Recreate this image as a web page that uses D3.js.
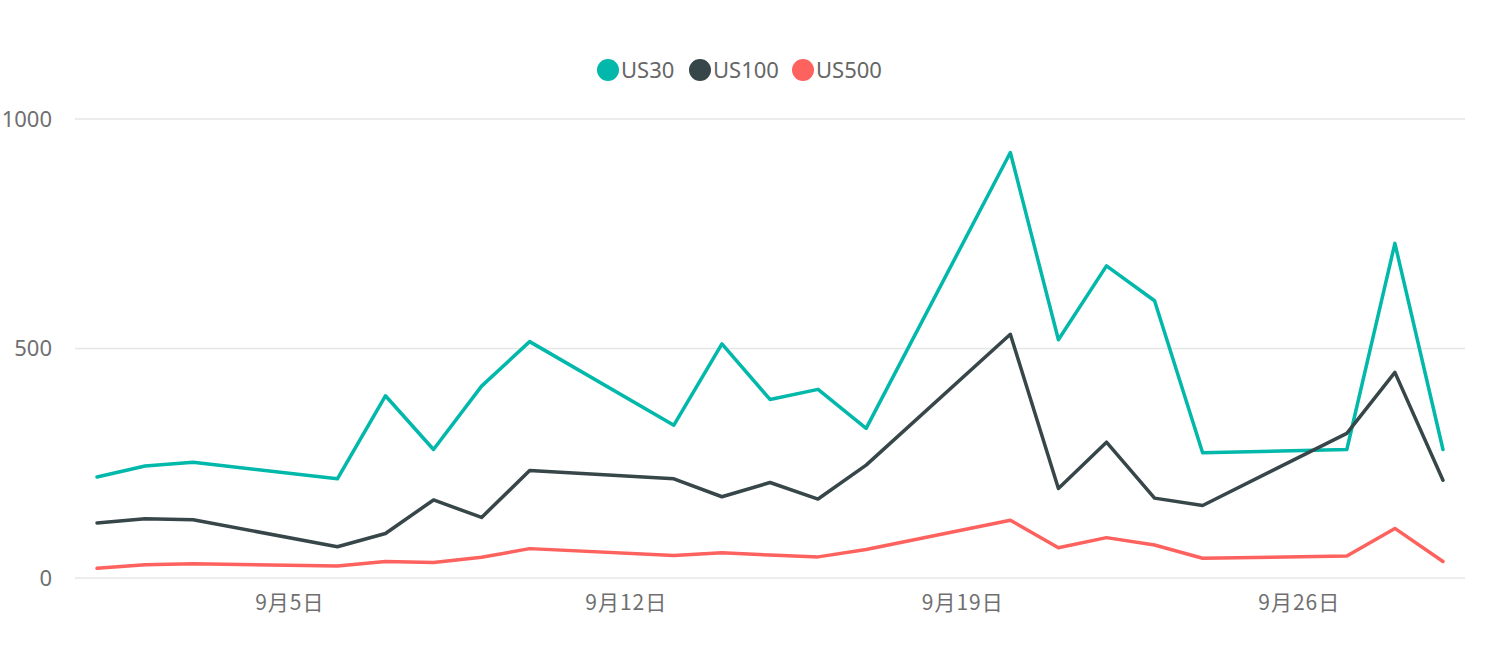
<!DOCTYPE html>
<html>
<head>
<meta charset="utf-8">
<script src="https://cdn.jsdelivr.net/npm/d3@7"></script>
<style>
  html, body { margin: 0; padding: 0; background: #fff; }
  svg { display: block; }
</style>
</head>
<body>
<svg id="chart" width="1485" height="651"></svg>
<script>
// ---- data ----
const dates = ["2021-09-01","2021-09-02","2021-09-03","2021-09-06","2021-09-07","2021-09-08","2021-09-09","2021-09-10",
  "2021-09-13","2021-09-14","2021-09-15","2021-09-16","2021-09-17",
  "2021-09-20","2021-09-21","2021-09-22","2021-09-23","2021-09-24",
  "2021-09-27","2021-09-28","2021-09-29"];
const us30  = [220, 244, 252, 216, 397, 280, 418, 515, 333, 510, 389, 411, 326, 927, 519, 680, 604, 273, 280, 729, 280];
const us100 = [120, 129, 127, 68, 97, 170, 132, 234, 216, 177, 208, 172, 246, 531, 195, 296, 174, 158, 315, 448, 213];
const us500 = [21, 29, 31, 26, 36, 34, 45, 64, 49, 55, 50, 46, 62, 126, 66, 88, 72, 43, 48, 108, 36];
const seriesNames = ["US30", "US100", "US500"];
const seriesColors = ["#01B8AA", "#374649", "#FD625E"];
const yTicks = [0, 500, 1000];
const xTickDates = ["2021-09-05", "2021-09-12", "2021-09-19", "2021-09-26"];

// ---- chart ----
const parse = d3.timeParse("%Y-%m-%d");
const dts = dates.map(parse);
const series = [us30, us100, us500];

const svg = d3.select("#chart");
const plotLeft = 75, plotRight = 1465;

const x = d3.scaleTime()
  .domain([d3.timeHour.offset(dts[0], -10.5), d3.timeHour.offset(dts[dts.length - 1], 11)])
  .range([plotLeft, plotRight]);
const y = d3.scaleLinear().domain([0, 1000]).range([578, 119]);

// gridlines
svg.append("g")
  .selectAll("line")
  .data(yTicks)
  .join("line")
  .attr("x1", plotLeft).attr("x2", plotRight)
  .attr("y1", d => y(d)).attr("y2", d => y(d))
  .attr("stroke", "#e6e6e6").attr("stroke-width", 1.5);

// y axis
const yAxis = d3.axisLeft(y).tickValues(yTicks).tickSize(0).tickPadding(0).tickFormat(d3.format("d"));
const gy = svg.append("g").attr("transform", "translate(52,0)").call(yAxis);
gy.select(".domain").remove();
gy.selectAll("text")
  .attr("dy", "0.34em")
  .attr("font-family", "'Noto Sans', 'Open Sans', sans-serif")
  .attr("font-size", 22).attr("fill", "#6f6f6f");

// x axis
const xAxis = d3.axisBottom(x).tickValues(xTickDates.map(parse)).tickSize(0).tickPadding(0)
  .tickFormat(d => (d.getMonth() + 1) + "月" + d.getDate() + "日");
const gx = svg.append("g").attr("transform", "translate(0,602)").call(xAxis);
gx.select(".domain").remove();
gx.selectAll("text")
  .attr("dy", "0.36em")
  .attr("letter-spacing", 1)
  .attr("font-family", "'Noto Sans CJK SC', 'Noto Sans', sans-serif")
  .attr("font-size", 21).attr("fill", "#6f6f6f");

// lines
const line = d3.line().x((d, i) => x(dts[i])).y(d => y(d));
svg.append("g")
  .selectAll("path")
  .data(series)
  .join("path")
  .attr("d", d => line(d))
  .attr("fill", "none")
  .attr("stroke", (d, i) => seriesColors[i])
  .attr("stroke-width", 3.5)
  .attr("stroke-linejoin", "round")
  .attr("stroke-linecap", "round");

// legend
const legendX = [608, 700, 803];
const lg = svg.append("g").selectAll("g").data(seriesNames).join("g")
  .attr("transform", (d, i) => `translate(${legendX[i]},70)`);
lg.append("circle").attr("r", 11).attr("fill", (d, i) => seriesColors[i]);
lg.append("text").attr("x", 13).attr("dy", "0.35em")
  .attr("font-family", "'Noto Sans', 'Open Sans', sans-serif")
  .attr("font-size", 22).attr("fill", "#666")
  .text(d => d);
</script>
</body>
</html>
